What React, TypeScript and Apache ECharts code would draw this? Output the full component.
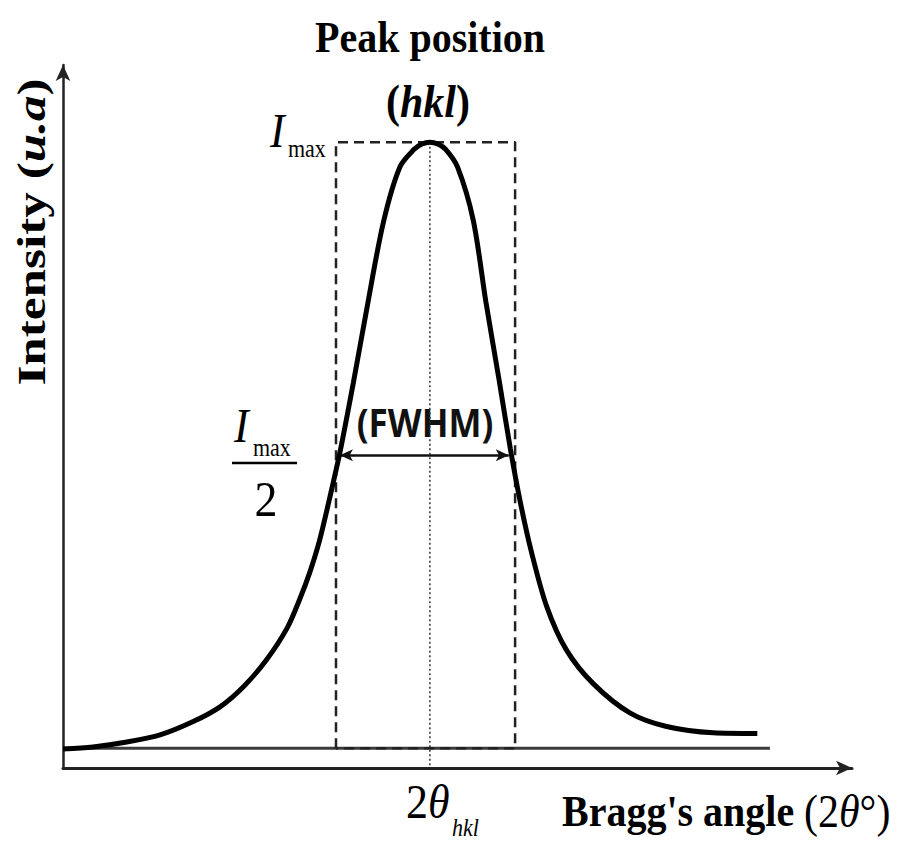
import React, { useEffect, useRef } from "react";
import * as echarts from "echarts";

// Schematic diffraction peak (arbitrary units)
const angle = [0, 3.8, 8.1, 12.3, 16.5, 19.9, 22.9, 25.8, 28.4, 30.0, 31.3, 32.5, 33.8, 35.1, 36.8, 38.5, 40.6, 42.7, 44.5, 45.5, 46.5, 47.5, 48.5, 50.0, 52.0, 53.6, 55.3, 56.7, 58.0, 59.4, 61.3, 63.8, 67.2, 71.9, 76.5, 82.4, 88.0];
const intensity = [2.7, 3.0, 3.7, 4.7, 6.6, 8.7, 11.6, 15.4, 19.9, 24.0, 27.9, 32.3, 38.4, 44.9, 54.8, 65.3, 77.6, 85.5, 88.0, 88.75, 89.0, 88.75, 88.0, 85.5, 77.9, 66.3, 55.0, 45.4, 37.6, 30.6, 23.0, 16.8, 12.0, 7.8, 5.9, 5.0, 4.9];

const peakAngle = 46.5;
const peakMax = 89.0;
const baseLevel = 2.8;
const baseEnd = 89.6;
const boxLeft = 34.6;
const boxRight = 57.3;
const halfLevel = 44.5;
const fwhmLeft = 35.1;
const fwhmRight = 56.5;

const SERIF = "'Liberation Serif', 'Times New Roman', serif";
const SANS = "'Open Sans', 'Liberation Sans', sans-serif";

export default function App() {
  const ref = useRef<HTMLDivElement>(null);
  useEffect(() => {
    if (!ref.current) return;
    const chart = echarts.init(ref.current, undefined, { renderer: "svg" });
    const curve = angle.map((a, i) => [a, intensity[i]]);
    const sy = 1.12;
    const txt = (o: any) => ({
      type: "text",
      silent: true,
      ...o,
    });
    chart.setOption({
      animation: false,
      backgroundColor: "#ffffff",
      grid: { left: 63, right: 52, top: 65, bottom: 75 },
      xAxis: {
        type: "value",
        min: 0,
        max: 100,
        axisLine: {
          show: true,
          lineStyle: { color: "#222", width: 3 },
          symbol: ["none", "arrow"],
          symbolSize: [11, 16],
        },
        axisTick: { show: false },
        axisLabel: { show: false },
        splitLine: { show: false },
      },
      yAxis: {
        type: "value",
        min: 0,
        max: 100,
        axisLine: {
          show: true,
          lineStyle: { color: "#222", width: 2.5 },
          symbol: ["none", "arrow"],
          symbolSize: [11, 16],
        },
        axisTick: { show: false },
        axisLabel: { show: false },
        splitLine: { show: false },
      },
      series: [
        {
          type: "line",
          data: [[0, baseLevel], [baseEnd, baseLevel]],
          showSymbol: false,
          lineStyle: { color: "#3a3a3a", width: 3 },
          z: 2,
        },
        {
          type: "line",
          data: [
            [boxLeft, baseLevel],
            [boxLeft, peakMax],
            [boxRight, peakMax],
            [boxRight, baseLevel],
            [boxLeft, baseLevel],
          ],
          showSymbol: false,
          lineStyle: { color: "#222", width: 2.5, type: [10, 6] },
          z: 3,
        },
        {
          type: "line",
          data: [[peakAngle, peakMax], [peakAngle, 0]],
          showSymbol: false,
          lineStyle: { color: "#333", width: 1.5, type: [2, 2.5] },
          z: 3,
          markLine: {
            silent: true,
            symbol: ["arrow", "arrow"],
            symbolSize: [9, 13],
            label: { show: false },
            lineStyle: { color: "#111", width: 2.5, type: "solid" },
            data: [[{ coord: [fwhmLeft, halfLevel] }, { coord: [fwhmRight, halfLevel] }]],
          },
        },
        {
          type: "line",
          data: curve,
          showSymbol: false,
          smooth: 0.3,
          lineStyle: { color: "#000", width: 5 },
          z: 5,
        },
      ],
      graphic: [
        txt({
          x: 430, y: 37, scaleY: sy,
          style: { text: "Peak position", fontFamily: SERIF, fontSize: 40, fontWeight: "bold", fill: "#000", align: "center", verticalAlign: "middle", textAlign: "center", textVerticalAlign: "middle" },
        }),
        txt({
          x: 428, y: 101, scaleY: sy,
          style: {
            text: "{p|(}{i|hkl}{p|)}",
            rich: {
              p: { fontFamily: SERIF, fontSize: 42, fontWeight: "bold", fill: "#000" },
              i: { fontFamily: SERIF, fontSize: 42, fontWeight: "bold", fontStyle: "italic", fill: "#000" },
            },
            align: "center", verticalAlign: "middle", textAlign: "center", textVerticalAlign: "middle",
          },
        }),
        // I_max at the top
        txt({
          x: 270, y: 130, scaleY: sy,
          style: { text: "I", fontFamily: SERIF, fontSize: 44, fontStyle: "italic", fill: "#000", align: "left", verticalAlign: "middle", textAlign: "left", textVerticalAlign: "middle" },
        }),
        txt({
          x: 288, y: 149, scaleY: sy,
          style: { text: "max", fontFamily: SERIF, fontSize: 22, fill: "#000", align: "left", verticalAlign: "middle", textAlign: "left", textVerticalAlign: "middle" },
        }),
        // I_max / 2
        txt({
          x: 234, y: 425, scaleY: sy,
          style: { text: "I", fontFamily: SERIF, fontSize: 44, fontStyle: "italic", fill: "#000", align: "left", verticalAlign: "middle", textAlign: "left", textVerticalAlign: "middle" },
        }),
        txt({
          x: 253, y: 448, scaleY: sy,
          style: { text: "max", fontFamily: SERIF, fontSize: 22, fill: "#000", align: "left", verticalAlign: "middle", textAlign: "left", textVerticalAlign: "middle" },
        }),
        {
          type: "line",
          silent: true,
          shape: { x1: 232, y1: 463, x2: 297, y2: 463 },
          style: { stroke: "#000", lineWidth: 2.5 },
        },
        txt({
          x: 266, y: 499, scaleY: sy,
          style: { text: "2", fontFamily: SERIF, fontSize: 46, fill: "#000", align: "center", verticalAlign: "middle", textAlign: "center", textVerticalAlign: "middle" },
        }),
        // FWHM
        txt({
          x: 425, y: 422, scaleY: 1.1,
          style: { text: "(FWHM)", fontFamily: SANS, fontSize: 35, fontWeight: "bold", fill: "#111", align: "center", verticalAlign: "middle", textAlign: "center", textVerticalAlign: "middle" },
        }),
        // 2θ_hkl
        txt({
          x: 406, y: 801, scaleY: sy,
          style: {
            text: "{n|2}{i|θ}",
            rich: {
              n: { fontFamily: SERIF, fontSize: 44, fill: "#000" },
              i: { fontFamily: SERIF, fontSize: 44, fontStyle: "italic", fill: "#000" },
            },
            align: "left", verticalAlign: "middle", textAlign: "left", textVerticalAlign: "middle",
          },
        }),
        txt({
          x: 452, y: 828, scaleY: sy,
          style: { text: "hkl", fontFamily: SERIF, fontSize: 22, fontStyle: "italic", fill: "#000", align: "left", verticalAlign: "middle", textAlign: "left", textVerticalAlign: "middle" },
        }),
        // x axis title
        txt({
          x: 562, y: 811, scaleY: sy,
          style: { text: "Bragg's angle", fontFamily: SERIF, fontSize: 40, fontWeight: "bold", fill: "#000", align: "left", verticalAlign: "middle", textAlign: "left", textVerticalAlign: "middle" },
        }),
        txt({
          x: 804, y: 811, scaleY: sy,
          style: {
            text: "{n|(2}{i|θ}{n|°)}",
            rich: {
              n: { fontFamily: SERIF, fontSize: 42, fill: "#000" },
              i: { fontFamily: SERIF, fontSize: 42, fontStyle: "italic", fill: "#000" },
            },
            align: "left", verticalAlign: "middle", textAlign: "left", textVerticalAlign: "middle",
          },
        }),
        // y axis title
        txt({
          x: 32, y: 232, rotation: Math.PI / 2, scaleX: 1.28,
          style: {
            text: "{n|Intensity (}{i|u.a}{n|)}",
            rich: {
              n: { fontFamily: SERIF, fontSize: 40, fontWeight: "bold", fill: "#000" },
              i: { fontFamily: SERIF, fontSize: 40, fontWeight: "bold", fontStyle: "italic", fill: "#000" },
            },
            align: "center", verticalAlign: "middle", textAlign: "center", textVerticalAlign: "middle",
          },
        }),
      ],
    });
    return () => chart.dispose();
  }, []);
  return (
    <div
      ref={ref}
      style={{ position: "fixed", left: 0, top: 0, width: 904, height: 843, background: "#fff" }}
    />
  );
}
